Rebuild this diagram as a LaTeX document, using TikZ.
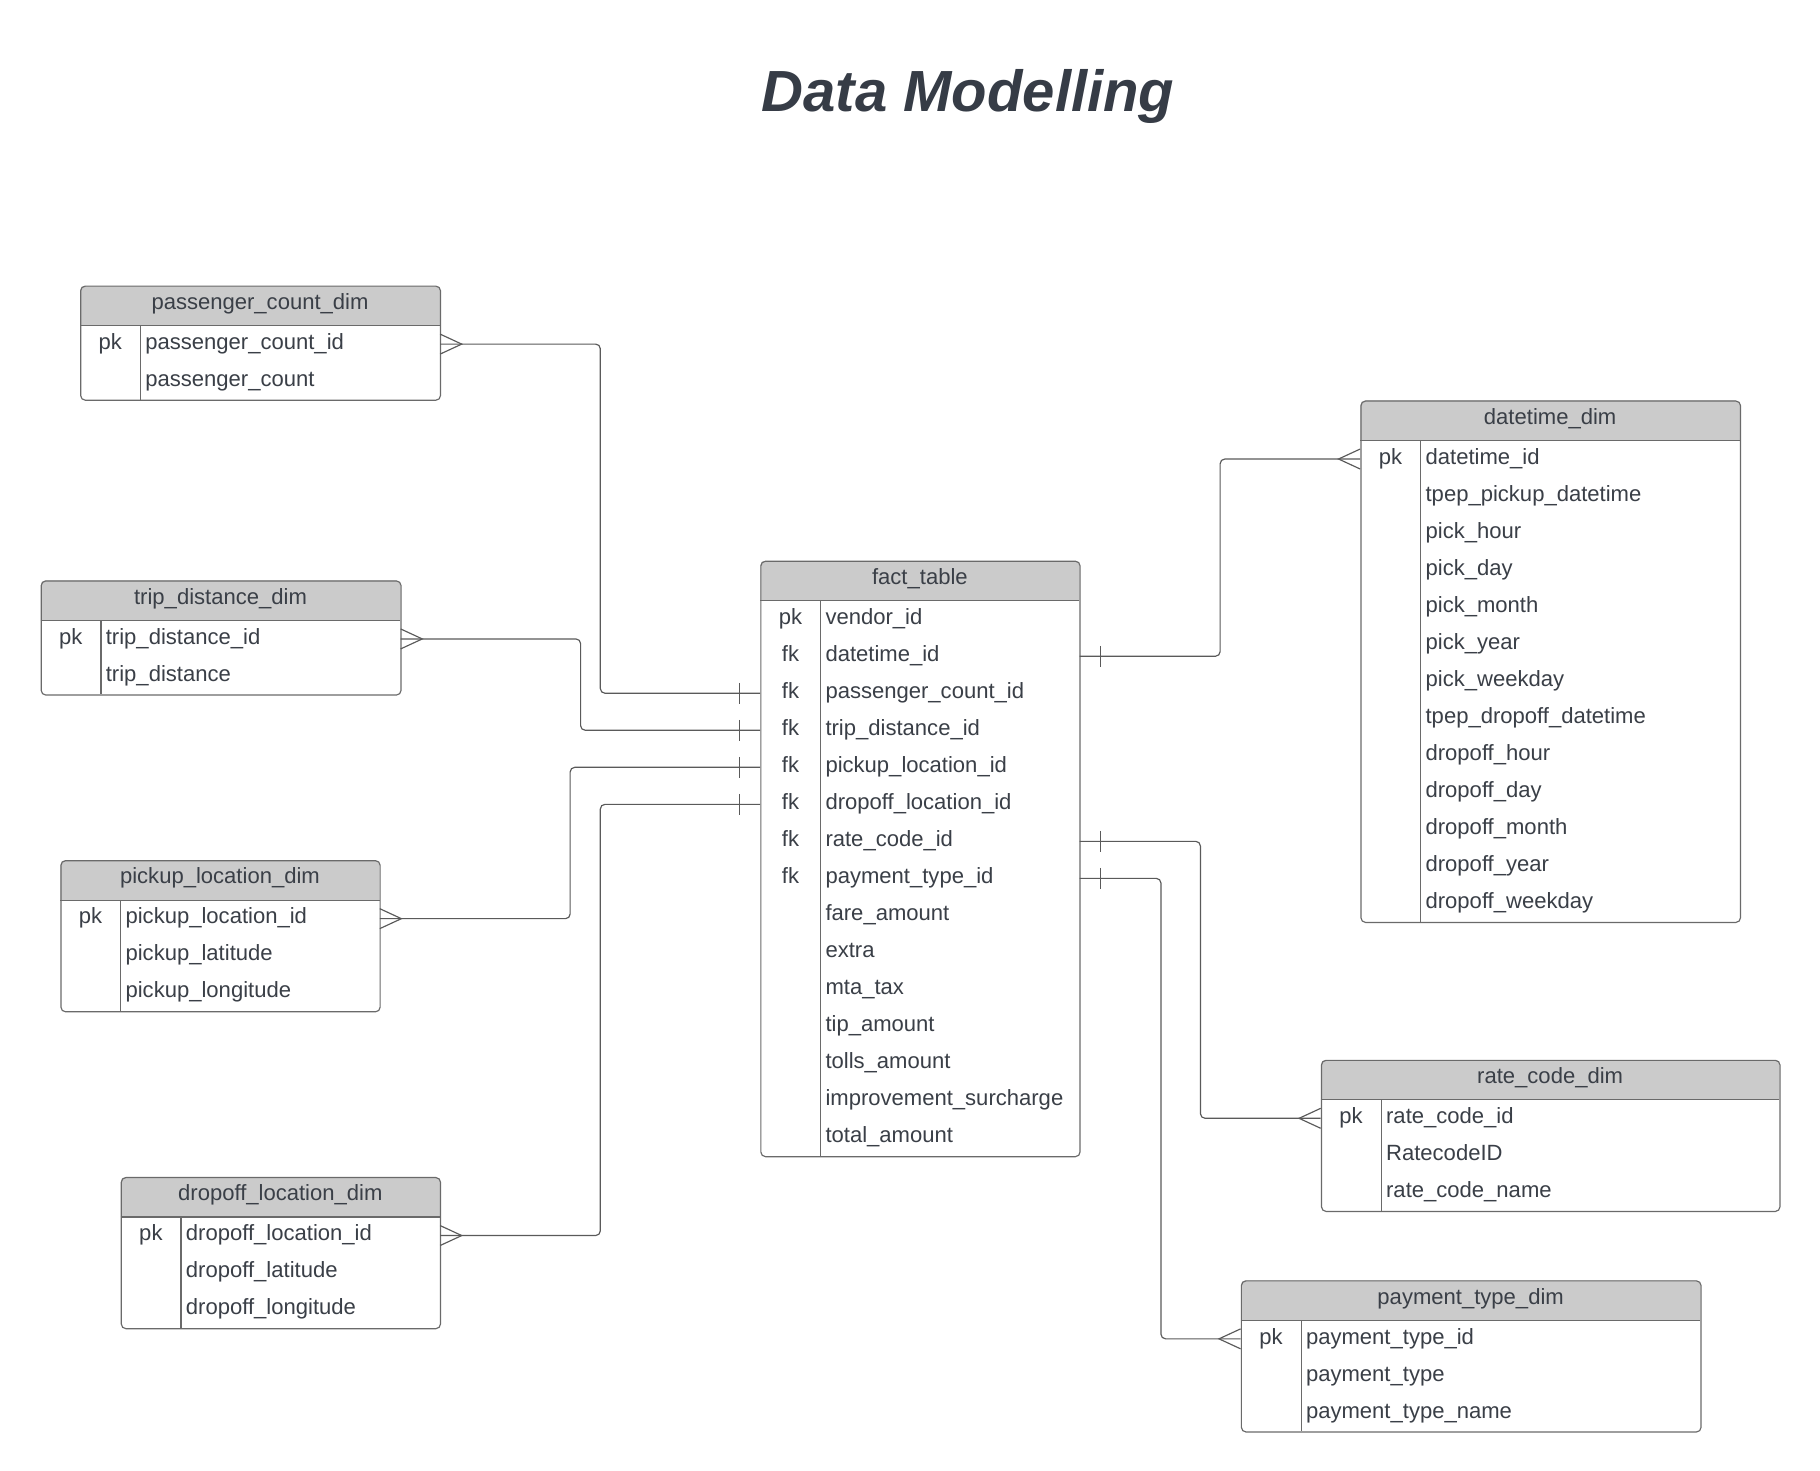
\documentclass[tikz,border=0pt]{standalone}
\usepackage{fontspec}
\setmainfont{Liberation Sans}
\usetikzlibrary{calc}
\definecolor{txt}{HTML}{3A3F47}
\definecolor{ttl}{HTML}{363C46}
\definecolor{hdr}{HTML}{CBCBCB}
\definecolor{brd}{HTML}{6A6A6A}
\definecolor{lnc}{HTML}{5A5A5A}
\tikzset{
  tabfont/.style={font=\fontsize{19}{23}\selectfont, text=txt, inner sep=0pt},
  rowslot/.style={inner sep=0pt, minimum height=31.9pt},
  conn/.style={draw=lnc, line width=1pt, rounded corners=4pt},
  crowline/.style={draw=lnc, line width=1pt},
}
% name, left, right, top, divider, title, nrows, rows
\newcommand{\ertable}[8]{%
  \pgfmathsetmacro{\erw}{#3-#2}%
  \pgfmathsetmacro{\erhb}{#4+34.5}%
  \pgfmathsetmacro{\erh}{34.5+#7*31.9}%
  \pgfmathsetmacro{\erbot}{#4+\erh}%
  \begin{scope}
    \clip[rounded corners=4pt] (#2,#4) rectangle (#3,\erbot);
    \fill[hdr] (#2,#4) rectangle (#3,\erhb);
  \end{scope}
  \node[draw=brd, line width=1pt, rounded corners=4pt, anchor=north west, inner sep=0pt,
        minimum width=\erw pt, minimum height=\erh pt] (#1) at (#2,#4) {};
  \draw[brd, line width=1pt] (#2,\erhb) -- (#3,\erhb);
  \draw[brd, line width=1pt] (#5,\erhb) -- (#5,\erbot);
  \node[tabfont, anchor=base] (#1-title) at ({(#2+#3)/2},{#4+20.5}) {#6};
  \foreach \k/\f [count=\i] in {#8} {
    \pgfmathsetmacro{\erc}{\erhb+(\i-0.5)*31.9}
    \node[rowslot, minimum width=\erw pt] (#1-\i) at ({(#2+#3)/2},\erc) {};
    \node[tabfont, anchor=base] (#1-k\i) at ({(#2+#5)/2},{\erc+4.5}) {\k};
    \node[tabfont, anchor=base west] (#1-f\i) at ({#5+4},{\erc+4.5}) {\f};
  }
}
\newcommand{\crowR}[1]{\draw[crowline] ($(#1)+(0,-8.6)$) -- ($(#1)+(18.6,0)$) -- ($(#1)+(0,8.6)$);}
\newcommand{\crowL}[1]{\draw[crowline] ($(#1)+(0,-8.6)$) -- ($(#1)+(-18.6,0)$) -- ($(#1)+(0,8.6)$);}
\newcommand{\barL}[1]{\draw[crowline] ($(#1)+(-18,-9)$) -- ($(#1)+(-18,9)$);}
\newcommand{\barR}[1]{\draw[crowline] ($(#1)+(18,-9)$) -- ($(#1)+(18,9)$);}
\begin{document}
\begin{tikzpicture}[x=1pt,y=-1pt]
\useasboundingbox[fill=white] (0,0) rectangle (1568,1267.3);

\node[font=\fontsize{50}{60}\selectfont\bfseries\itshape, text=ttl, anchor=base, inner sep=0pt] (title) at (834,96) {Data Modelling};

\ertable{pc}{69}{379}{246}{121}{passenger\_count\_dim}{2}{pk/passenger\_count\_id, /passenger\_count}
\ertable{td}{35}{345}{500}{87}{trip\_distance\_dim}{2}{pk/trip\_distance\_id, /trip\_distance}
\ertable{pl}{52}{327}{741}{104}{pickup\_location\_dim}{3}{pk/pickup\_location\_id, /pickup\_latitude, /pickup\_longitude}
\ertable{dl}{104}{379}{1014}{156}{dropoff\_location\_dim}{3}{pk/dropoff\_location\_id, /dropoff\_latitude, /dropoff\_longitude}
\ertable{ft}{655}{930}{483}{707}{fact\_table}{15}{pk/vendor\_id, fk/datetime\_id, fk/passenger\_count\_id, fk/trip\_distance\_id, fk/pickup\_location\_id, fk/dropoff\_location\_id, fk/rate\_code\_id, fk/payment\_type\_id, /fare\_amount, /extra, /mta\_tax, /tip\_amount, /tolls\_amount, /improvement\_surcharge, /total\_amount}
\ertable{dt}{1172}{1499}{345}{1224}{datetime\_dim}{13}{pk/datetime\_id, /tpep\_pickup\_datetime, /pick\_hour, /pick\_day, /pick\_month, /pick\_year, /pick\_weekday, /tpep\_dropoff\_datetime, /dropoff\_hour, /dropoff\_day, /dropoff\_month, /dropoff\_year, /dropoff\_weekday}
\ertable{rc}{1138}{1533}{913}{1190}{rate\_code\_dim}{3}{pk/rate\_code\_id, /RatecodeID, /rate\_code\_name}
\ertable{pt}{1069}{1465}{1103}{1121}{payment\_type\_dim}{3}{pk/payment\_type\_id, /payment\_type, /payment\_type\_name}

% connectors
\draw[conn] (pc-1.east) -- ++(138,0) |- (ft-3.west);
\draw[conn] (td-1.east) -- ++(155,0) |- (ft-4.west);
\draw[conn] (pl-1.east) -- ++(164,0) |- (ft-5.west);
\draw[conn] (dl-1.east) -- ++(138,0) |- (ft-6.west);
\draw[conn] (ft-2.east) -- ++(121,0) |- (dt-1.west);
\draw[conn] (ft-7.east) -- ++(104,0) |- (rc-1.west);
\draw[conn] (ft-8.east) -- ++(70,0) |- (pt-1.west);

% crow's feet (many side)
\crowR{pc-1.east}
\crowR{td-1.east}
\crowR{pl-1.east}
\crowR{dl-1.east}
\crowL{dt-1.west}
\crowL{rc-1.west}
\crowL{pt-1.west}

% single bars (one side)
\barL{ft-3.west}
\barL{ft-4.west}
\barL{ft-5.west}
\barL{ft-6.west}
\barR{ft-2.east}
\barR{ft-7.east}
\barR{ft-8.east}
\end{tikzpicture}
\end{document}
